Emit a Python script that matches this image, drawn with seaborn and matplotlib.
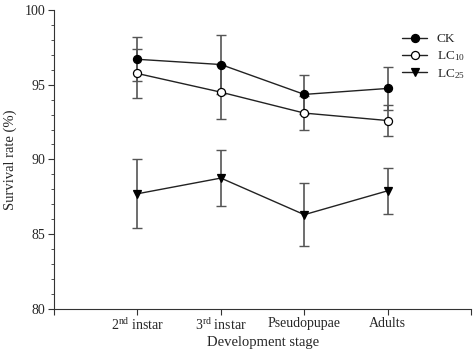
import numpy as np
import pandas as pd
import matplotlib
matplotlib.use("Agg")
import matplotlib.pyplot as plt
import seaborn as sns

stages = ["2$^{nd}$ instar", "3$^{rd}$ instar", "Pseudopupae", "Adults"]
ck = [96.7, 96.35, 94.35, 94.75]
ck_err = [1.48, 1.95, 1.32, 1.43]
lc10 = [95.75, 94.5, 93.1, 92.6]
lc10_err = [1.67, 1.8, 1.15, 1.03]
lc25 = [87.7, 88.75, 86.3, 87.9]
lc25_err = [2.32, 1.9, 2.12, 1.55]

sns.set_style("ticks")
plt.rcParams["font.family"] = ["Liberation Serif", "DejaVu Serif"]
plt.rcParams["mathtext.fontset"] = "custom"
plt.rcParams["mathtext.rm"] = "Liberation Serif"
plt.rcParams["mathtext.it"] = "Liberation Serif"

x = np.arange(1, len(stages) + 1)

fig, ax = plt.subplots(figsize=(4.74, 3.57), dpi=100)
fig.subplots_adjust(left=0.114, right=0.994, top=0.972, bottom=0.135)

series = [
    ("CK", ck, ck_err, "o", "black", 5.8),
    ("LC$_{10}$", lc10, lc10_err, "o", "white", 5.8),
    ("LC$_{25}$", lc25, lc25_err, "v", "black", 6.2),
]

for name, vals, errs, mk, fc, ms in series:
    ax.errorbar(x, vals, yerr=errs, fmt="none", ecolor="#555555",
                elinewidth=1.2, capsize=3.5, capthick=1.0, zorder=2)
for name, vals, errs, mk, fc, ms in series:
    df = pd.DataFrame({"stage": x, "rate": vals})
    sns.lineplot(data=df, x="stage", y="rate", ax=ax, color="#222222",
                 linewidth=1.0, marker=mk, markersize=ms,
                 markerfacecolor=fc, markeredgecolor="black",
                 markeredgewidth=0.9, label=name, zorder=3)

ax.set_xlim(0, 5)
ax.set_ylim(80, 100)
ax.set_xticks(range(0, 6))
ax.set_xticklabels([""] + stages + [""])
ax.set_yticks([80, 85, 90, 95, 100])
ax.set_yticks(np.arange(80, 101, 1), minor=True)
ax.tick_params(axis="both", which="major", direction="out", length=4,
               width=0.8, labelsize=10, color="#333333", pad=2)
ax.tick_params(axis="y", which="minor", direction="out", length=2.5,
               width=0.6, color="#333333")
ax.set_xlabel("Development stage", fontsize=10.5, labelpad=2)
ax.set_ylabel("Survival rate (%)", fontsize=10.5, labelpad=6)
sns.despine(ax=ax)
for s in ["left", "bottom"]:
    ax.spines[s].set_linewidth(0.8)
    ax.spines[s].set_color("#333333")

ax.legend(loc="upper right", bbox_to_anchor=(1.0, 0.945), frameon=False,
          fontsize=9.5, handlelength=1.9, handletextpad=0.7,
          labelspacing=0.3, borderaxespad=0.1)

fig.savefig("out.png", dpi=100)
